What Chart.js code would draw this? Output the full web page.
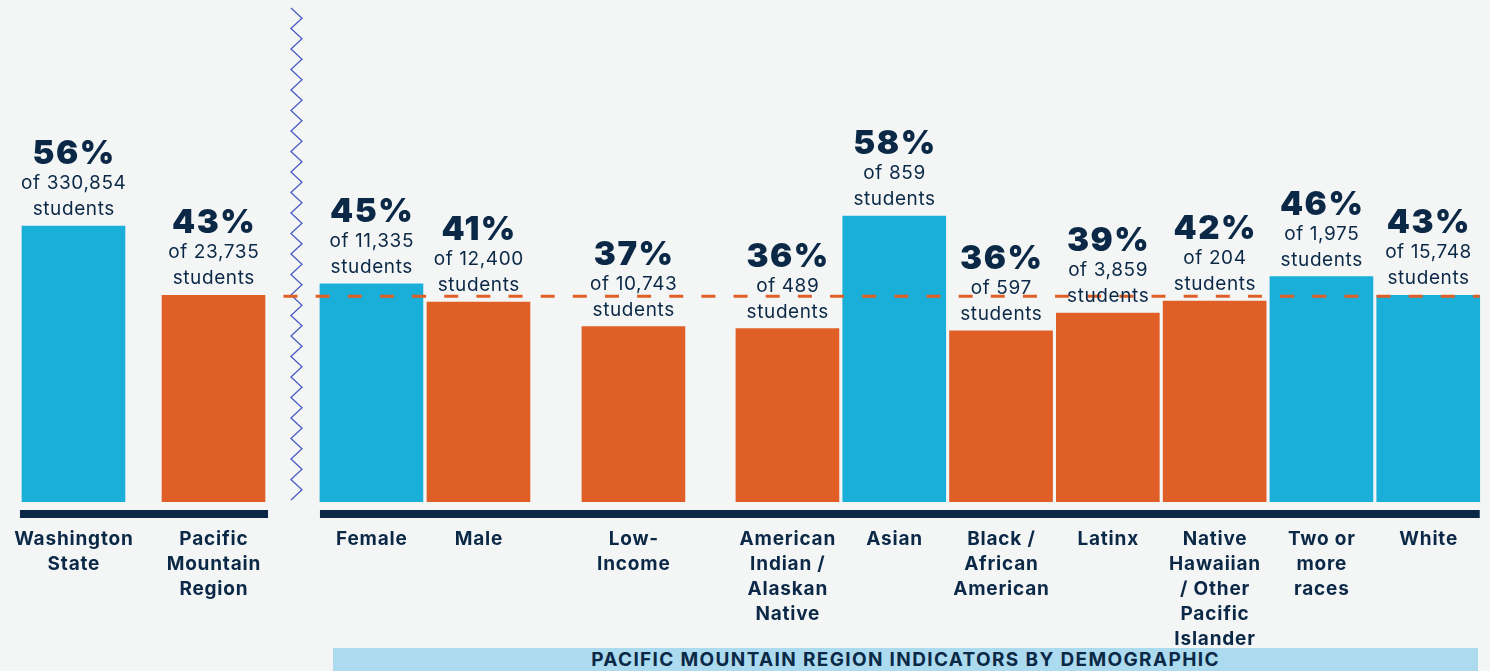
<!DOCTYPE html>
<html><head><meta charset="utf-8">
<script src="https://cdn.jsdelivr.net/npm/chart.js@4.4.1/dist/chart.umd.min.js"></script>
<style>
html,body{margin:0;padding:0;background:#f4f6f6;}
#wrap{position:relative;width:1490px;height:671px;overflow:hidden;background:#f4f6f6;}
#banner{position:absolute;left:333px;top:648px;width:1145px;height:23px;background:#acdbef;color:#0b2947;font:700 19px Inter,sans-serif;letter-spacing:1.35px;text-align:center;line-height:24px;white-space:nowrap;}
</style></head>
<body><div id="wrap"><canvas id="c" width="1490" height="671"></canvas><div id="banner">PACIFIC MOUNTAIN REGION INDICATORS BY DEMOGRAPHIC</div></div>
<script>
// ---- data ----
const categories = [
  ['Washington','State'],
  ['Pacific','Mountain','Region'],
  ['Female'],
  ['Male'],
  ['Low-','Income'],
  ['American','Indian /','Alaskan','Native'],
  ['Asian'],
  ['Black /','African','American'],
  ['Latinx'],
  ['Native','Hawaiian','/ Other','Pacific','Islander'],
  ['Two or','more','races'],
  ['White']
];
const percentValues = [56.0, 42.7, 44.9, 41.4, 36.7, 36.3, 57.9, 35.9, 39.3, 41.6, 46.3, 42.7];
const studentCounts = ['330,854','23,735','11,335','12,400','10,743','489','859','597','3,859','204','1,975','15,748'];
const regionIndex = 1; // Pacific Mountain Region rate is the dashed reference line

// ---- layout / style (not data) ----
const slotSpacing = [0.688, 1.311, 1.479, 1.002, 1.451, 1.442, 1, 1, 1, 1, 1, 1]; // distance from previous category, in bar-slot units
const BLUE = '#1aafd9', ORANGE = '#e05f27', NAVY = '#0b2947', ZIG = '#4b5cc0';
const barColors = [BLUE, ORANGE, BLUE, ORANGE, ORANGE, ORANGE, BLUE, ORANGE, ORANGE, ORANGE, BLUE, BLUE];

const slotX = [];
slotSpacing.reduce((acc, s, i) => { slotX[i] = acc + s; return acc + s; }, 0);
const points = percentValues.map((v, i) => ({ x: slotX[i], y: v }));

function setSpacing(ctx, px) { try { ctx.letterSpacing = px + 'px'; } catch (e) {} }

const overlay = {
  id: 'overlay',
  afterDatasetsDraw(chart) {
    const ctx = chart.ctx;
    const bars = chart.getDatasetMeta(0).data;
    const area = chart.chartArea;
    const ys = chart.scales.y;
    const half = i => bars[i].width / 2;
    const left = i => bars[i].x - half(i);
    const right = i => bars[i].x + half(i);
    const last = bars.length - 1;
    ctx.save();
    // baselines
    ctx.fillStyle = NAVY;
    const bTop = area.bottom + 8;
    ctx.fillRect(left(0) - 2, bTop, right(1) + 3 - (left(0) - 2), 8);
    ctx.fillRect(left(2), bTop, right(last) - left(2), 8);
    // zigzag break
    const zx = (right(1) + left(2)) / 2 + 4;
    ctx.strokeStyle = ZIG; ctx.lineWidth = 1.3;
    ctx.beginPath();
    let k = 0;
    for (let y = 8; y <= bTop; y += 10.25) {
      const x = zx + (k % 2 === 0 ? -5.5 : 5.5);
      if (k === 0) ctx.moveTo(x, y); else ctx.lineTo(x, y);
      k++;
    }
    ctx.stroke();
    // dashed regional reference line
    const ry = ys.getPixelForValue(percentValues[regionIndex]) + 1;
    ctx.strokeStyle = ORANGE; ctx.lineWidth = 3; ctx.setLineDash([14, 18.15]);
    ctx.beginPath(); ctx.moveTo(zx - 13, ry); ctx.lineTo(right(last), ry); ctx.stroke();
    ctx.setLineDash([]);
    // value labels
    ctx.fillStyle = NAVY; ctx.textAlign = 'center'; ctx.textBaseline = 'alphabetic';
    bars.forEach((b, i) => {
      const top = b.y;
      ctx.font = '900 33px Inter, sans-serif';
      setSpacing(ctx, 1.5);
      ctx.fillText(Math.round(percentValues[i]) + '%', b.x + 0.7, top - 62);
      ctx.font = '400 19px Inter, sans-serif';
      setSpacing(ctx, 0.6);
      ctx.fillText('of ' + studentCounts[i], b.x + 0.3, top - 37);
      ctx.fillText('students', b.x + 0.3, top - 11);
    });
    // category labels
    ctx.font = '700 19px Inter, sans-serif';
    setSpacing(ctx, 0.8);
    ctx.textBaseline = 'middle';
    bars.forEach((b, i) => {
      categories[i].forEach((line, j) => {
        ctx.fillText(line, b.x + 0.4, area.bottom + 37 + j * 25);
      });
    });
    setSpacing(ctx, 0);
    ctx.restore();
  }
};

new Chart(document.getElementById('c'), {
  type: 'bar',
  data: {
    datasets: [{
      data: points,
      backgroundColor: barColors,
      borderWidth: 0,
      barThickness: 103
    }]
  },
  options: {
    responsive: false,
    animation: false,
    devicePixelRatio: 1,
    layout: { padding: { top: 10, bottom: 169, left: 0, right: 0 } },
    plugins: { legend: { display: false }, tooltip: { enabled: false } },
    scales: {
      x: { type: 'linear', offset: false, min: 0, max: 1490 / 106.8, display: false, grid: { offset: false } },
      y: { min: 3, max: 97.5, display: false }
    }
  },
  plugins: [overlay]
});
</script>
</body></html>
